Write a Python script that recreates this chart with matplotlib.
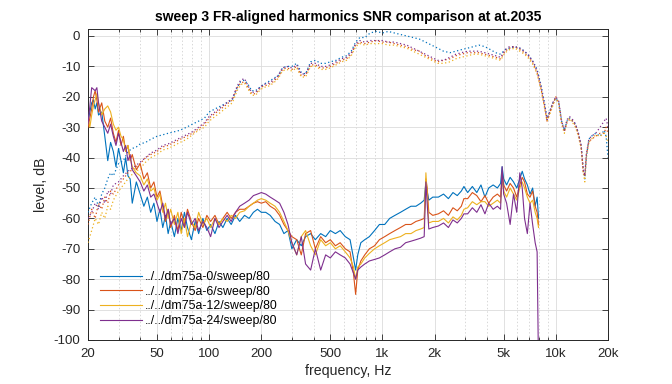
import matplotlib
matplotlib.use('Agg')
import matplotlib.pyplot as plt
from matplotlib.ticker import FixedLocator, FixedFormatter, NullFormatter

plt.rcParams['font.family'] = ['Liberation Sans', 'DejaVu Sans']

# ---------------- data ----------------
labels = ['../../dm75a-0/sweep/80', '../../dm75a-6/sweep/80',
          '../../dm75a-12/sweep/80', '../../dm75a-24/sweep/80']
colors = ['#0072BD', '#D95319', '#EDB120', '#7E2F8E']

# harmonics (solid)
freq_h = [20, 20.5, 21, 21.5, 22, 22.5, 23, 24, 25, 26, 27, 28, 29, 30, 31, 32, 33, 34, 35, 36,
          38, 40, 42, 44, 46, 48, 50, 52, 54, 56, 58, 60,
          63, 66, 69, 72, 75, 79, 83, 87, 92, 97, 102,
          108, 114, 120, 127, 134, 142, 150, 160, 170, 180, 190, 200,
          212, 225, 240, 255, 270, 285, 300, 320, 340, 360, 385, 410, 440, 470, 500,
          535, 570, 610, 650, 680, 700, 720, 750, 790, 840, 900, 960,
          1030, 1100, 1180, 1270, 1360, 1460, 1560, 1660,
          1740, 1780, 1810, 1850, 1950,
          2100, 2250, 2400, 2550, 2700, 2850, 2950, 3100, 3300, 3500, 3700, 3900,
          4100, 4350, 4600, 4800, 4900, 5000, 5200, 5450, 5700, 5950, 6200, 6400, 6600, 6850,
          7100, 7350, 7600, 7800, 7950]

harm_0 = [-28, -25, -22, -21, -24, -22, -26, -25, -33, -41, -35, -38, -43, -37, -41, -45, -40, -46, -47, -55,
          -48, -52, -56, -53, -58, -55, -61, -57, -63, -59, -65, -61,
          -66, -60, -64, -58, -63, -67, -61, -65, -60, -64, -62,
          -65, -61, -63, -60, -62, -59, -61, -59, -60, -58, -57, -58,
          -58, -59, -61, -62, -65, -64, -70, -67, -69, -66, -65, -67, -65, -66, -64,
          -65, -64, -66, -67, -73, -77, -72, -68, -67, -66, -64, -62,
          -62, -60, -59, -58, -57, -56, -56, -55,
          -54, -48, -51, -54, -53,
          -53, -52, -53.5, -51.5, -52.5, -51, -49.5, -51.5, -49.5, -51.5, -49, -53,
          -50, -49, -50, -48.5, -43, -47, -49, -46.5, -48, -50, -47, -44.5, -47, -49,
          -52, -50, -56, -53, -60]

harm_6 = [-30, -27, -24, -20, -18, -21, -25, -22, -28, -30, -27, -32, -35, -31, -36, -33, -38, -36, -41, -39,
          -44, -42, -47, -45, -50, -48, -53, -51, -56, -61, -57, -63,
          -59, -64, -58, -62, -57, -61, -64, -60, -63, -59, -61,
          -59, -62, -60, -58, -60, -58, -57, -57, -56, -55, -54.5, -55,
          -54.5, -56, -57, -59, -62, -64, -66, -67, -72, -65, -64, -70, -66, -68, -67,
          -69, -68, -70, -71, -78, -85, -77, -74, -72, -70, -69, -67,
          -66, -65, -64, -63, -62, -62, -61, -60.5,
          -60, -47, -50, -58, -59,
          -58.5, -57.5, -59, -56.5, -57.5, -56, -53.5, -53.5, -51.5, -52.5, -54.5, -52.5,
          -55, -53, -52, -53, -45, -49, -51, -48.5, -50, -53, -49, -46.5, -48, -52,
          -53, -51, -56, -58, -62]

harm_12 = [-27, -30, -26, -23, -21, -19, -22, -26, -24, -23, -25, -29, -31, -30, -33, -34, -38, -36, -40, -43,
           -45, -46, -49, -47, -51, -50, -54, -52, -58, -55, -60, -57,
           -62, -58, -65, -60, -66, -61, -63, -58, -62, -60, -63,
           -60, -62, -60, -61, -59, -60, -58, -57.5, -56, -55, -54, -53.5,
           -54, -55, -56, -58, -61, -64, -68, -72, -66, -64, -69, -72, -67, -69, -68,
           -70, -69, -71, -73, -76, -80, -76, -75, -73, -71.5, -70, -69,
           -68, -67, -66.5, -66, -65, -65, -64, -63.5,
           -63, -45, -52, -61.5, -61,
           -61, -60, -61.5, -59.5, -60.5, -59, -57, -56.5, -54.5, -55.5, -54.5, -54.5,
           -56, -55, -54, -55, -47, -51, -53, -50, -52, -54, -50, -48, -50, -53,
           -55, -54, -58, -60, -63]

harm_24 = [-29, -23, -17, -17.5, -18, -17, -22, -28, -30, -32, -29, -33, -36, -32, -35, -38, -36, -41, -39, -44,
           -46, -48, -51, -49, -53, -52, -55, -58, -55, -60, -57, -62,
           -60, -65, -60, -63, -58, -62, -60, -64, -61, -63, -66,
           -60, -63, -61, -59, -61, -58, -56, -55, -54, -52.5, -52, -51.5,
           -52, -53, -54, -55, -58, -62, -68, -72, -66, -75, -77, -70, -77, -72, -73,
           -71, -72, -73, -75, -78, -80, -77, -76, -75, -74, -73.5, -73,
           -72, -71, -70, -69.5, -68, -67.5, -67, -66.5,
           -66, -48, -55, -63.5, -63,
           -62.5, -61.5, -63, -60.5, -61.5, -60, -58.5, -58.5, -56.5, -58, -55.5, -58.5,
           -55, -57, -56, -57, -43, -52, -55, -62, -52, -58, -45, -50, -60, -65,
           -55, -62, -68, -71, -110]

# frequency response (dotted)
freq_r = [20, 21, 22, 23, 24, 25, 26, 27, 28, 30, 32, 34, 36, 38, 40, 43, 46, 50, 54, 58,
          63, 68, 74, 80, 87, 94, 100, 108, 117, 126, 136, 145, 152, 160, 168, 176, 185, 195, 205,
          220, 235, 250, 265, 280, 300, 320, 340, 360, 385, 410, 440, 470, 500, 540, 580, 620,
          660, 700, 740, 790, 850, 920, 1000, 1080, 1170, 1270, 1380, 1500, 1630, 1770, 1920,
          2080, 2250, 2450, 2650, 2850, 3100, 3350, 3600, 3900, 4200, 4500, 4800, 5100, 5400,
          5800, 6200, 6600, 7000, 7400, 7800, 8200, 8600, 8900, 9200, 9600, 10000, 10400,
          10800, 11200, 11600, 12000, 12500, 13000, 13500, 14000, 14400, 14700, 15000, 15500,
          16000, 17000, 18000, 19000, 19500, 20000]

fr_0 = [-58, -55, -53, -56, -52, -50, -47, -45, -46, -42, -41, -38, -37, -36.5, -35.5, -35, -34, -33, -32.5, -32,
        -31.5, -31, -30, -29, -28, -27, -25, -24, -23, -22, -21, -17, -15, -14.5, -16, -18, -18, -17, -16,
        -15, -14, -13, -10.5, -10, -10, -9, -12, -12.5, -8.5, -8, -9, -9, -8.5, -8, -7, -6.5,
        -5, -2, -0.5, -0.5, 1, 1.5, 1, 1.5, 1, 0.5, 0, -0.5, -1, -2, -3,
        -4, -5, -5.5, -5, -4.5, -4, -3.5, -3, -3.5, -4.5, -5.5, -6, -4.5, -4,
        -3.5, -4, -5, -6.5, -8.5, -11, -16, -22, -27, -25, -22, -20.5, -22,
        -28, -31, -28, -27, -28, -29, -32, -36, -44, -47, -40, -34,
        -33, -32, -33, -31, -33, -40]

fr_6 = [-62, -57, -60, -55, -57, -53, -55, -51, -52, -49, -47, -45, -44, -43, -42, -40, -39, -38, -36.5, -36,
        -35, -34, -33, -32, -30.5, -29, -27, -25.5, -24, -22.5, -21, -17, -15.5, -15, -17, -19, -19, -17.5, -16.5,
        -16, -15, -13.5, -11, -10.5, -11, -10, -13, -13, -9.5, -9.5, -10.5, -10.5, -10, -9, -8, -7.5,
        -6, -3, -2, -2.5, -2, -1.5, -2, -2, -2.5, -3, -3.5, -4.5, -5, -6.5, -7.5,
        -8.5, -8, -7.5, -6.5, -6, -5.5, -5.5, -5.5, -6, -6.5, -7, -7.5, -5, -4,
        -3.5, -4.5, -5.5, -7, -9, -12, -17, -23, -28, -25.5, -22.5, -20, -22,
        -28.5, -31.5, -28.5, -27.5, -28, -29.5, -32.5, -36.5, -45, -46, -39, -35,
        -34, -33, -32, -32, -30, -32]

fr_12 = [-68, -64, -60, -62, -58, -60, -56, -57, -54, -51, -49, -47, -45.5, -44.5, -43.5, -41.5, -40, -39, -37.5, -37,
         -36, -35, -34, -32.5, -31, -30, -28, -26.5, -25, -23.5, -22, -18, -16, -15.5, -17.5, -19.5, -19.5, -18, -17,
         -16.5, -15.5, -14, -11.5, -11, -11.5, -10.5, -13.5, -13.5, -10, -10, -11, -11, -10.5, -9.5, -8.5, -8,
         -6.5, -3.5, -2.5, -3, -2.5, -2.5, -2.5, -3, -3, -3.5, -4, -5, -6, -7, -8,
         -9, -9, -8.5, -7.5, -7, -6.5, -6, -6, -6.5, -7, -7.5, -8, -5.5, -4.5,
         -4, -5, -6, -7.5, -9.5, -12.5, -17.5, -23.5, -28, -26, -23, -20.5, -22.5,
         -29, -32, -28, -27, -28.5, -30, -33, -37, -45, -48, -40, -35,
         -34, -32.5, -33, -32, -33, -35]

fr_24 = [-60, -58, -55, -57, -53, -55, -51, -52, -49, -48, -46, -44.5, -43.5, -42.5, -41.5, -40, -38.5, -37.5, -36, -35.5,
         -34.5, -33.5, -32.5, -31.5, -30, -28.5, -26.5, -25, -23.5, -22, -20.5, -16.5, -14.5, -14, -16.5, -18.5, -18.5, -17, -16,
         -15.5, -14.5, -13, -10.5, -10, -10.5, -9.5, -12.5, -12.5, -9, -9, -10, -10, -9.5, -8.5, -7.5, -7,
         -5.5, -2.5, -1.5, -2, -1.5, -1.5, -1.5, -2, -2, -2.5, -3, -4, -5, -6, -7,
         -8, -8, -7, -6, -5.5, -5, -5, -5, -5.5, -6, -6.5, -7, -4.5, -3.5,
         -3.5, -4, -5, -6.5, -8.5, -11.5, -16.5, -22.5, -27.5, -25, -22, -20, -21.5,
         -28, -31, -27.5, -26.5, -27.5, -29, -32, -36, -44, -46, -39, -34,
         -33, -32, -30, -28, -27, -30]

harm = [harm_0, harm_6, harm_12, harm_24]
fr = [fr_0, fr_6, fr_12, fr_24]

x_major = [20, 50, 100, 200, 500, 1000, 2000, 5000, 10000, 20000]
x_major_labels = ['20', '50', '100', '200', '500', '1k', '2k', '5k', '10k', '20k']
x_minor = [30, 40, 60, 70, 80, 90, 300, 400, 600, 700, 800, 900,
           3000, 4000, 6000, 7000, 8000, 9000]
y_ticks = [-100, -90, -80, -70, -60, -50, -40, -30, -20, -10, 0]

# ---------------- plot ----------------
W, H = 672, 384
fig = plt.figure(figsize=(W / 100, H / 100), dpi=100)
ax = fig.add_axes([88 / W, 1 - 340 / H, 520 / W, 311 / H])

for i in range(4):
    ax.plot(freq_h, harm[i], color=colors[i], lw=0.8, label=labels[i], zorder=3)
    ax.plot(freq_r, fr[i], color=colors[i], lw=0.9, linestyle=(0, (1, 2)), zorder=3)

ax.set_xscale('log')
ax.set_xlim(20, 20000)
ax.set_ylim(-100, 2.3)

axc = '#262626'
ax.xaxis.set_major_locator(FixedLocator(x_major))
ax.xaxis.set_major_formatter(FixedFormatter(x_major_labels))
ax.xaxis.set_minor_locator(FixedLocator(x_minor))
ax.xaxis.set_minor_formatter(NullFormatter())
ax.set_yticks(y_ticks)
ax.set_yticklabels([str(v) for v in y_ticks])

ax.tick_params(which='both', direction='in', top=True, right=True, colors=axc,
               labelsize=9.5, width=0.6)
ax.tick_params(which='major', length=4, pad=5.5)
ax.tick_params(which='minor', length=2.5)

ax.grid(True, which='major', color='#dcdcdc', lw=0.6, linestyle='-', zorder=0)
ax.grid(True, which='minor', axis='x', color='#c8c8c8', lw=0.5, linestyle=(0, (2, 3)), zorder=0)
ax.set_axisbelow(True)

for s in ax.spines.values():
    s.set_color(axc)
    s.set_linewidth(0.7)

ax.set_xlabel('frequency, Hz', fontsize=10.2, color=axc, labelpad=3.5)
ax.set_ylabel('level, dB', fontsize=10.2, color=axc, labelpad=4)
ax.set_title('sweep 3 FR-aligned harmonics SNR comparison at at.2035',
             fontsize=10, fontweight='bold', color='black', pad=6)

ax.legend(loc='lower left', bbox_to_anchor=(12 / 520, 13 / 311), frameon=False,
          fontsize=8.9, handlelength=3.4, handletextpad=0.25, labelspacing=0.22,
          borderpad=0, borderaxespad=0)

fig.savefig('out.png', dpi=100)
